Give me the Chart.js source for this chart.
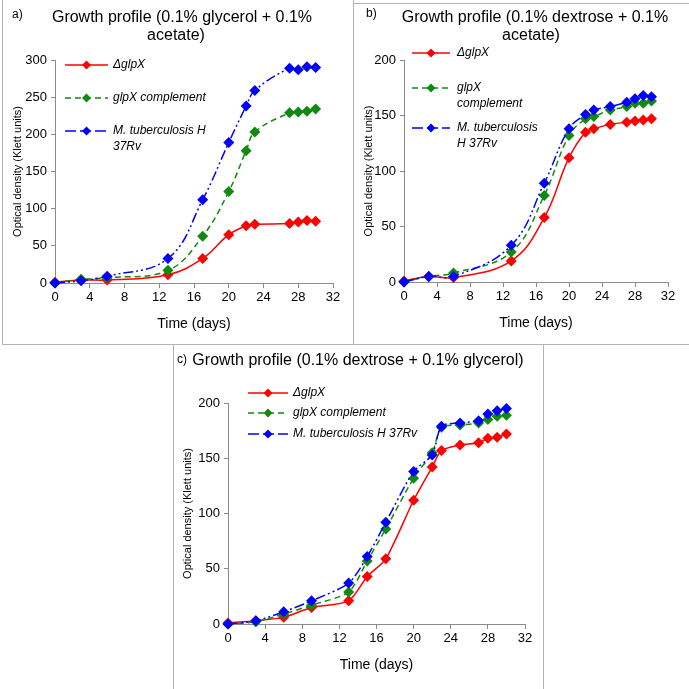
<!DOCTYPE html>
<html>
<head>
<meta charset="utf-8">
<script src="https://cdn.jsdelivr.net/npm/chart.js@4.4.1/dist/chart.umd.min.js"></script>
<style>
  body { margin: 0; background: #fff; }
  #page { position: relative; width: 689px; height: 689px; overflow: hidden; }
  .ln { position: absolute; background: #b4b4b4; }
  canvas { position: absolute; }
</style>
</head>
<body>
<div id="page">
  <div class="ln" style="left:2px;top:0;width:1px;height:345px"></div>
  <div class="ln" style="left:2px;top:344px;width:687px;height:1px"></div>
  <div class="ln" style="left:353px;top:0;width:1px;height:345px"></div>
  <div class="ln" style="left:353px;top:3px;width:336px;height:1px"></div>
  <div class="ln" style="left:173px;top:344px;width:1px;height:345px"></div>
  <div class="ln" style="left:543px;top:344px;width:1px;height:345px"></div>
  <canvas id="cA" style="left:3px;top:0px"></canvas>
  <canvas id="cB" style="left:354px;top:4px"></canvas>
  <canvas id="cC" style="left:174px;top:345px"></canvas>
</div>
<script>
// a) 0.1% glycerol + 0.1% acetate
var daysA = [0, 3, 6, 13, 17, 20, 22, 23, 27, 28, 29, 30];
var mutantA = [1, 4, 4, 11, 33, 65, 77, 79, 80, 82, 84, 83];
var complementA = [0, 5, 7, 17, 63, 123, 178, 203, 229, 230, 231, 234];
var wildA = [0, 3, 9, 33, 112, 189, 238, 259, 289, 287, 291, 290];

// b) 0.1% dextrose + 0.1% acetate
var daysB = [0, 3, 6, 13, 17, 20, 22, 23, 25, 27, 28, 29, 30];
var mutantB = [1, 5, 4, 19, 58, 112, 135, 138, 142, 144, 145, 146, 147];
var complementB = [0, 5, 8, 27, 78, 132, 147, 149, 155, 158, 161, 161, 163];
var wildB = [0, 5, 5, 33, 89, 138, 151, 155, 158, 162, 165, 168, 167];

// c) 0.1% dextrose + 0.1% glycerol
var daysC = [0, 3, 6, 9, 13, 15, 17, 20, 22, 23, 25, 27, 28, 29, 30];
var mutantC = [1, 3, 6, 15, 21, 43, 59, 112, 142, 157, 162, 164, 168, 169, 172];
var complementC = [0, 2, 9, 17, 29, 57, 86, 132, 155, 178, 180, 182, 185, 188, 189];
var wildC = [0, 3, 11, 21, 37, 61, 92, 138, 153, 179, 182, 184, 190, 193, 195];

var seriesNames = ['ΔglpX', 'glpX complement', 'M. tuberculosis H 37Rv'];
var xTitle = 'Time (days)';
var yTitle = 'Optical density (Klett units)';

var RED = '#ff0000', GREEN = '#118a11', BLUE = '#0000ff';
var FONT = '"Liberation Sans", Arial, sans-serif';

function pts(xs, ys) {
  var out = [];
  for (var i = 0; i < xs.length; i++) out.push({x: xs[i], y: ys[i]});
  return out;
}

function diamond(ctx, x, y, r, col) {
  ctx.beginPath();
  ctx.moveTo(x, y - r);
  ctx.lineTo(x + r, y);
  ctx.lineTo(x, y + r);
  ctx.lineTo(x - r, y);
  ctx.closePath();
  ctx.fillStyle = col;
  ctx.fill();
}

var styles = [
  {color: RED, dash: [], legendDash: []},
  {color: GREEN, dash: [6, 4], legendDash: [6, 4]},
  {color: BLUE, dash: [10, 3, 2, 3, 2, 3], legendDash: [11, 4]}
];

function makeDeco(p) {
  return {
    id: 'deco',
    afterDraw: function(chart) {
      var ctx = chart.ctx;
      ctx.save();
      ctx.fillStyle = '#000';
      ctx.textBaseline = 'middle';
      ctx.font = '12px ' + FONT;
      ctx.textAlign = 'left';
      ctx.fillText(p.letter, p.letterX, p.letterY);
      ctx.font = '16px ' + FONT;
      ctx.textAlign = 'center';
      p.title.forEach(function(t) { ctx.fillText(t[0], t[1], t[2]); });
      // legend
      ctx.font = 'italic 12px ' + FONT;
      ctx.textAlign = 'left';
      p.legend.forEach(function(item, i) {
        var st = styles[i];
        ctx.strokeStyle = st.color;
        ctx.lineWidth = 1.5;
        ctx.setLineDash(st.legendDash);
        ctx.beginPath();
        ctx.moveTo(p.lx0, item.y);
        ctx.lineTo(p.lx1, item.y);
        ctx.stroke();
        ctx.setLineDash([]);
        diamond(ctx, (p.lx0 + p.lx1) / 2, item.y, 4.5, st.color);
        ctx.fillStyle = '#000';
        item.lines.forEach(function(t, k) {
          ctx.fillText(t, p.tx, item.y + k * 16);
        });
      });
      ctx.restore();
    }
  };
}

function makeChart(id, w, h, days, sets, yMax, area, p) {
  var cv = document.getElementById(id);
  cv.width = w; cv.height = h;
  cv.style.width = w + 'px'; cv.style.height = h + 'px';
  var datasets = sets.map(function(vals, i) {
    return {
      label: seriesNames[i],
      data: pts(days, vals),
      borderColor: styles[i].color,
      backgroundColor: styles[i].color,
      borderWidth: 1.5,
      borderDash: styles[i].dash,
      pointStyle: 'rectRot',
      pointRadius: 5.5,
      pointBorderWidth: 0,
      tension: p.tension,
      clip: false,
      order: 2 - i
    };
  });
  return new Chart(cv, {
    type: 'line',
    data: {datasets: datasets},
    options: {
      responsive: false,
      animation: false,
      layout: {padding: {left: 0, right: w - area.right, top: area.top, bottom: 0}},
      plugins: {legend: {display: false}, tooltip: {enabled: false}},
      scales: {
        x: {
          type: 'linear', min: 0, max: 32,
          ticks: {stepSize: 4, color: '#000', font: {family: FONT, size: 13}, padding: 2},
          grid: {drawOnChartArea: false, drawTicks: true, tickLength: 5, color: '#8c8c8c'},
          border: {color: '#8c8c8c'},
          title: {display: true, text: xTitle, color: '#000', font: {family: FONT, size: 14},
                  padding: {top: 0, bottom: p.xPad}},
          afterFit: function(s) { s.height = h - area.bottom; }
        },
        y: {
          min: 0, max: yMax,
          ticks: {stepSize: 50, color: '#000', font: {family: FONT, size: 13}, padding: 4},
          grid: {drawOnChartArea: false, drawTicks: true, tickLength: 4, color: '#8c8c8c'},
          border: {color: '#8c8c8c'},
          title: {display: true, text: yTitle, color: '#000', font: {family: FONT, size: 11},
                  padding: {top: p.yPad, bottom: 0}},
          afterFit: function(s) { s.width = area.left; }
        }
      }
    },
    plugins: [makeDeco(p)]
  });
}

makeChart('cA', 349, 343, daysA, [mutantA, complementA, wildA], 300,
  {left: 52, right: 330, top: 60, bottom: 283},
  {letter: 'a)', letterX: 9, letterY: 15, tension: 0.4, xPad: 10, yPad: 8,
   title: [['Growth profile (0.1% glycerol + 0.1%', 179, 18], ['acetate)', 173, 36]],
   lx0: 62, lx1: 105, tx: 110,
   legend: [{y: 65, lines: ['ΔglpX']}, {y: 98, lines: ['glpX complement']},
            {y: 131, lines: ['M. tuberculosis H', '37Rv']}]});

makeChart('cB', 335, 339, daysB, [mutantB, complementB, wildB], 200,
  {left: 50, right: 314, top: 56, bottom: 278},
  {letter: 'b)', letterX: 12, letterY: 10, tension: 0.4, xPad: 11, yPad: 8,
   title: [['Growth profile (0.1% dextrose + 0.1%', 181, 14], ['acetate)', 177, 32]],
   lx0: 58, lx1: 96, tx: 103,
   legend: [{y: 49, lines: ['ΔglpX']}, {y: 84, lines: ['glpX', 'complement']},
            {y: 124, lines: ['M. tuberculosis', 'H 37Rv']}]});

makeChart('cC', 368, 344, daysC, [mutantC, complementC, wildC], 200,
  {left: 54, right: 351, top: 58, bottom: 279},
  {letter: 'c)', letterX: 3, letterY: 15, tension: 0.25, xPad: 15, yPad: 7,
   title: [['Growth profile (0.1% dextrose + 0.1% glycerol)', 184, 16]],
   lx0: 74, lx1: 114, tx: 119,
   legend: [{y: 48, lines: ['ΔglpX']}, {y: 68, lines: ['glpX complement']},
            {y: 89, lines: ['M. tuberculosis H 37Rv']}]});
</script>
</body>
</html>
